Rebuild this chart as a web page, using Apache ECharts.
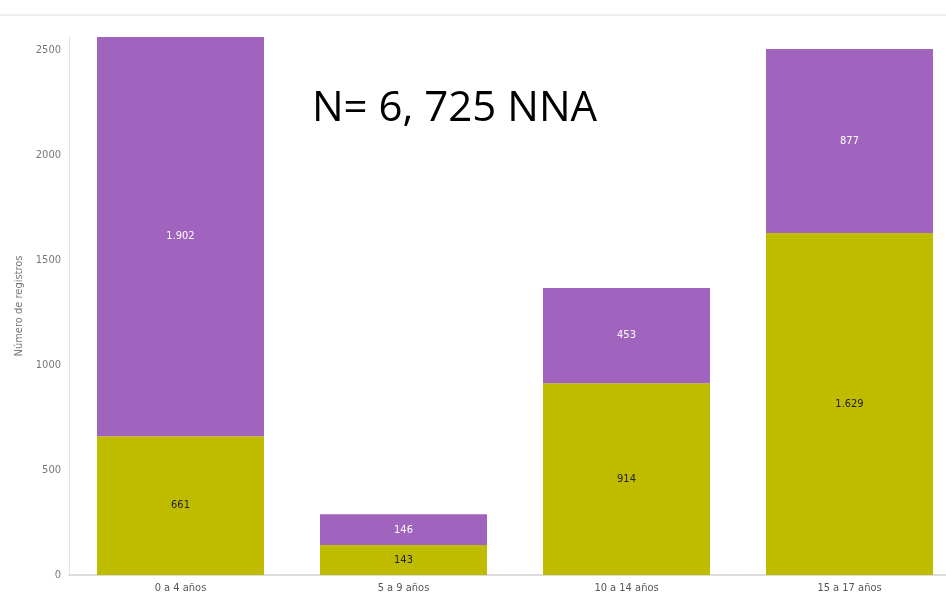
<!DOCTYPE html>
<html><head><meta charset="utf-8">
<script src="https://cdn.jsdelivr.net/npm/echarts@6/dist/echarts.min.js"></script>
<style>html,body{margin:0;padding:0;background:#fff}#c{width:946px;height:607px}</style>
</head><body><div id="c"></div>
<script>
const categories = ["0 a 4 años", "5 a 9 años", "10 a 14 años", "15 a 17 años"];
const lowerValues = [661, 143, 914, 1629];
const upperValues = [1902, 146, 453, 877];
const yTicks = [0, 500, 1000, 1500, 2000, 2500];
const fmt = v => v >= 1000 ? Math.floor(v/1000) + '.' + String(v%1000).padStart(3,'0') : String(v);

const chart = echarts.init(document.getElementById('c'), null, {renderer:'canvas'});
chart.setOption({
  animation:false,
  backgroundColor:'#fff',
  graphic:[{type:'line', shape:{x1:0,y1:15,x2:946,y2:15}, style:{stroke:'#eeeeee', lineWidth:2}}],
  title:{text:'N= 6, 725 NNA', left:307, top:83, textStyle:{fontFamily:'Open Sans', fontWeight:'normal', fontSize:42, color:'#000'}},
  grid:{left:69, width:892, top:37, bottom:32, containLabel:false, outerBoundsMode:'none'},
  xAxis:{type:'category', data:categories,
    axisLine:{lineStyle:{color:'#dddddd', width:2}}, axisTick:{show:false},
    axisLabel:{color:'#555', fontSize:11, fontFamily:'DejaVu Sans Condensed, Liberation Sans Narrow, sans-serif', margin:8}},
  yAxis:{type:'value', min:0, max:2563, interval:500,
    name:'Número de registros', nameLocation:'middle', nameGap:42, nameRotate:90,
    nameTextStyle:{color:'#777', fontSize:11, fontFamily:'DejaVu Sans Condensed, sans-serif'},
    axisLine:{show:true, lineStyle:{color:'#e0e0e0'}}, axisTick:{show:false}, splitLine:{show:false},
    axisLabel:{color:'#777', fontSize:11, fontFamily:'DejaVu Sans Condensed, sans-serif', margin:8,
      formatter: v => yTicks.includes(v) ? String(v) : ''}},
  series:[
    {type:'bar', stack:'a', data:lowerValues, barWidth:167, itemStyle:{color:'#BFBC00'},
      label:{show:true, position:'inside', color:'#222', fontSize:11, fontFamily:'DejaVu Sans Condensed, sans-serif', formatter:p=>fmt(p.value)}},
    {type:'bar', stack:'a', data:upperValues, barWidth:167, itemStyle:{color:'#A064BF'},
      label:{show:true, position:'inside', color:'#fff', fontSize:11, fontFamily:'DejaVu Sans Condensed, sans-serif', formatter:p=>fmt(p.value)}}
  ]
});
</script></body></html>
